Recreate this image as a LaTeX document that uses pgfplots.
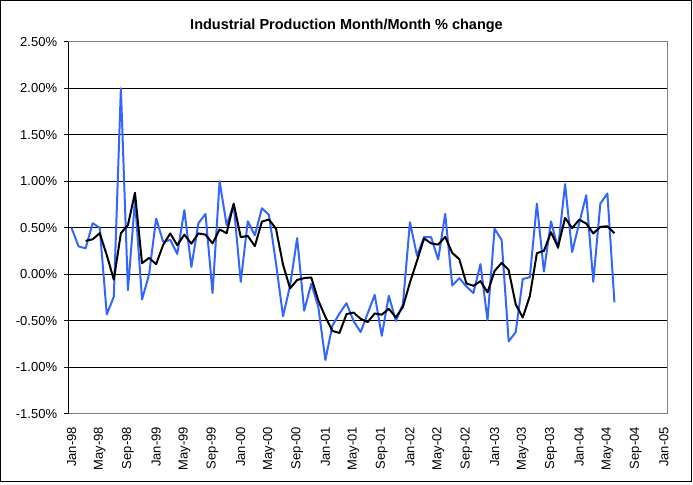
\documentclass[border=0pt]{standalone}
\usepackage{pgfplots}
\pgfplotsset{compat=1.18}
\usepackage{fontspec}
\setmainfont{Liberation Sans}
\definecolor{ipblue}{RGB}{51,102,255}
\definecolor{bordergray}{RGB}{128,128,128}
\begin{document}
\begin{tikzpicture}[x=1bp,y=1bp]
\useasboundingbox (0,0) rectangle (693,485);
\draw[line width=1bp] (0.5,3.3) rectangle (691,484.5);
\node[font=\bfseries\fontsize{14.5bp}{16bp}\selectfont] at (346.5,459) {Industrial Production Month/Month \% change};
\begin{axis}[
  at={(68bp,71bp)}, anchor=south west,
  scale only axis, width=599.3bp, height=372.3bp,
  xmin=-0.5, xmax=84.5, ymin=-1.5, ymax=2.5,
  ytick={-1.5,-1,-0.5,0,0.5,1,1.5,2,2.5},
  yticklabel={\pgfmathprintnumber[fixed,fixed zerofill,precision=2]{\tick}\%},
  /pgf/number format/assume math mode=true,
  xtick={0,4,...,84},
  xticklabels={Jan-98,May-98,Sep-98,Jan-99,May-99,Sep-99,Jan-00,May-00,Sep-00,Jan-01,May-01,Sep-01,Jan-02,May-02,Sep-02,Jan-03,May-03,Sep-03,Jan-04,May-04,Sep-04,Jan-05},
  ymajorgrids, major grid style={black, line width=1bp},
  axis line style={draw=bordergray, line width=1bp},
  ytick pos=left,
  tick style={black, line width=1bp}, major tick length=4bp, tick align=outside,
  xtick style={draw=none},
  ticklabel style={font=\fontsize{13bp}{15bp}\selectfont},
  xticklabel style={rotate=90, anchor=east, inner sep=0pt},
  yticklabel style={anchor=east, inner sep=0pt},
  xticklabel shift=9bp, yticklabel shift=6.7bp,
]
\addplot[ipblue, line width=2bp, line join=round, mark=none] coordinates {
(0,0.50)(1,0.30)(2,0.28)(3,0.55)(4,0.50)(5,-0.43)(6,-0.24)(7,2.00)(8,-0.17)(9,0.80)
(10,-0.27)(11,0.00)(12,0.60)(13,0.35)(14,0.37)(15,0.22)(16,0.69)(17,0.08)(18,0.55)(19,0.65)
(20,-0.20)(21,1.00)(22,0.53)(23,0.75)(24,-0.08)(25,0.57)(26,0.42)(27,0.71)(28,0.64)(29,0.12)
(30,-0.45)(31,-0.12)(32,0.39)(33,-0.39)(34,-0.10)(35,-0.35)(36,-0.92)(37,-0.55)(38,-0.42)(39,-0.31)
(40,-0.50)(41,-0.62)(42,-0.42)(43,-0.22)(44,-0.66)(45,-0.23)(46,-0.50)(47,-0.32)(48,0.56)(49,0.20)
(50,0.40)(51,0.40)(52,0.16)(53,0.65)(54,-0.12)(55,-0.04)(56,-0.13)(57,-0.20)(58,0.11)(59,-0.49)
(60,0.49)(61,0.37)(62,-0.72)(63,-0.62)(64,-0.05)(65,-0.03)(66,0.76)(67,0.03)(68,0.57)(69,0.28)
(70,0.97)(71,0.24)(72,0.55)(73,0.85)(74,-0.08)(75,0.76)(76,0.87)(77,-0.30)
};
\addplot[black, line width=2bp, line join=round, mark=none] coordinates {
(2,0.360)(3,0.377)(4,0.443)(5,0.207)(6,-0.057)(7,0.443)(8,0.530)(9,0.877)
(10,0.120)(11,0.177)(12,0.110)(13,0.317)(14,0.440)(15,0.313)(16,0.427)(17,0.330)(18,0.440)(19,0.427)
(20,0.333)(21,0.483)(22,0.443)(23,0.760)(24,0.400)(25,0.413)(26,0.303)(27,0.567)(28,0.590)(29,0.490)
(30,0.103)(31,-0.150)(32,-0.060)(33,-0.040)(34,-0.033)(35,-0.280)(36,-0.457)(37,-0.607)(38,-0.630)(39,-0.427)
(40,-0.410)(41,-0.477)(42,-0.513)(43,-0.420)(44,-0.433)(45,-0.370)(46,-0.463)(47,-0.350)(48,-0.087)(49,0.147)
(50,0.387)(51,0.333)(52,0.320)(53,0.403)(54,0.230)(55,0.163)(56,-0.097)(57,-0.123)(58,-0.073)(59,-0.193)
(60,0.037)(61,0.123)(62,0.047)(63,-0.323)(64,-0.463)(65,-0.233)(66,0.227)(67,0.253)(68,0.453)(69,0.293)
(70,0.607)(71,0.497)(72,0.587)(73,0.547)(74,0.440)(75,0.510)(76,0.517)(77,0.443)
};
\draw[black, line width=1bp] (rel axis cs:0,0) -- (rel axis cs:0,1);
\end{axis}
\end{tikzpicture}
\end{document}
